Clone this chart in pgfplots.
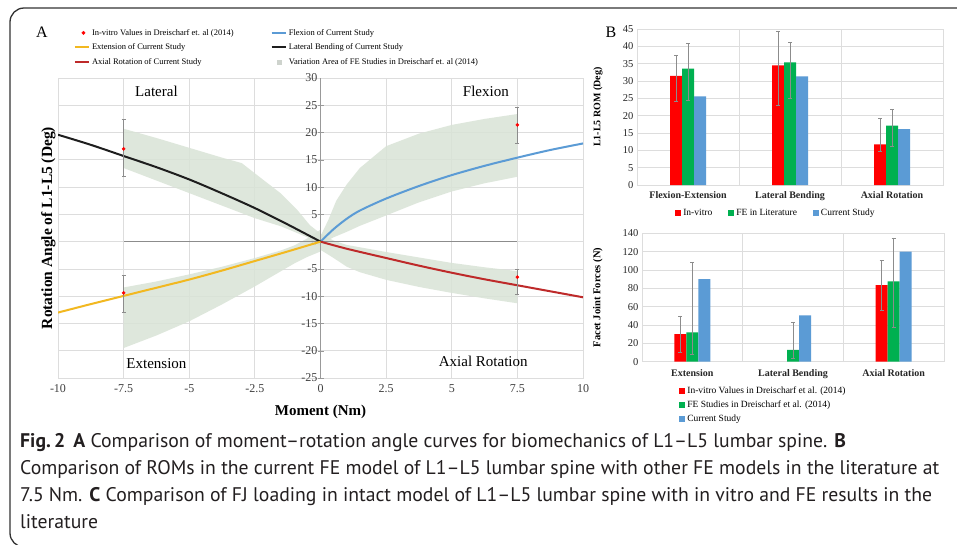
\documentclass[border=0pt]{standalone}
\usepackage{fontspec}
\setmainfont{Liberation Serif}
\newfontfamily\capfont{PT Sans}
\usepackage{pgfplots}
\pgfplotsset{compat=1.18}

\definecolor{flexblue}{HTML}{5B9BD5}
\definecolor{extgold}{HTML}{F2B820}
\definecolor{latblack}{HTML}{1E1E1E}
\definecolor{axred}{HTML}{BE2A2A}
\definecolor{shade}{HTML}{D9E3D6}
\definecolor{gridgray}{HTML}{DDDDDD}
\definecolor{barred}{HTML}{FF0000}
\definecolor{bargreen}{HTML}{00B050}
\definecolor{barblue}{HTML}{5B9BD5}
\definecolor{errgray}{HTML}{8C8C8C}
\definecolor{captext}{HTML}{231F20}

\pgfplotsset{
  /pgf/number format/assume math mode=true,
  sq legend/.style={legend image code/.code={\fill[#1] (0pt,-3pt) rectangle (6pt,3pt);}},
  ln legend/.style={legend image code/.code={\draw[#1, line width=2.2pt] (0pt,0pt) -- (14pt,0pt);}},
  errs/.style={
    /pgfplots/error bars/y dir=both,
    /pgfplots/error bars/y explicit,
    /pgfplots/error bars/error bar style={draw=errgray, line width=0.7pt},
    /pgfplots/error bars/error mark options={rotate=90, draw=errgray, mark size=2pt, line width=0.7pt}},
}

\begin{document}
\begin{tikzpicture}
\useasboundingbox (0,0) rectangle (957pt,-544pt);
\fill[white] (0,0) rectangle (957pt,-544pt);

% ---------------- panel A ----------------
\begin{axis}[
  at={(58pt,-378pt)}, anchor=south west,
  scale only axis, width=525pt, height=300pt,
  xmin=-10, xmax=10, ymin=-25, ymax=30,
  xtick={-10,-7.5,-5,-2.5,0,2.5,5,7.5,10},
  xticklabels={-10,-7.5,-5,-2.5,0,2.5,5,7.5,10},
  ytick={-25,-20,-15,-10,-5,0,5,10,15,20,25,30},
  yticklabels={-25,-20,-15,-10,-5,0,5,10,15,20,25,30},
  grid=major, grid style={draw=gridgray, line width=0.8pt},
  axis line style={draw=gridgray, line width=0.8pt},
  major tick length=0pt,
  tick label style={font=\fontsize{12}{12}\selectfont, text=black!75},
  xticklabel style={yshift=-3pt},
  yticklabel style={xshift=263pt},
  xlabel={Moment (Nm)},
  xlabel style={font=\fontsize{15}{15}\selectfont\bfseries, at={(axis description cs:0.5,-0.112)}, anchor=center},
  ylabel={Rotation Angle of L1-L5 (Deg)},
  ylabel style={font=\fontsize{15.5}{15.5}\selectfont\bfseries, at={(axis description cs:0.002,0.5)}, anchor=south},
  legend style={at={(axis description cs:0.024,1.177)}, anchor=north west, draw=none, fill=none,
    legend columns=2, font=\fontsize{8.5}{8.5}\selectfont, cells={anchor=west}, row sep=3pt,
    /tikz/every even column/.append style={column sep=35pt}},
]
% variation areas of FE studies
\addplot[fill=shade, draw=none, fill opacity=0.85, forget plot] coordinates {
  (-7.5,20.7) (-6.25,19.0) (-5,17.2) (-3.75,15.4) (-3,14.4) (-2.2,11.4) (-1.5,8.8) (-0.9,5.9) (-0.4,3.0) (0,1.5)
  (0,-0.8) (-0.5,0.8) (-1,1.8) (-1.5,2.8) (-2.5,4.3) (-3.75,6.6) (-5,8.9) (-6.25,11.2) (-7.5,13.5)} -- cycle;
\addplot[fill=shade, draw=none, fill opacity=0.85, forget plot] coordinates {
  (-7.5,-8.4) (-6.25,-7.3) (-5,-6.0) (-3.75,-4.6) (-2.5,-3.0) (-1.5,-1.6) (-1,-0.7) (-0.5,0.6) (0,2.2)
  (0,-1.8) (-0.5,-2.8) (-1,-4.0) (-1.5,-5.4) (-2.5,-8.2) (-3.75,-11.5) (-5,-14.6) (-6.25,-17.2) (-7.5,-19.5)} -- cycle;
\addplot[fill=shade, draw=none, fill opacity=0.85, forget plot] coordinates {
  (0,1) (0.3,4) (0.6,7.5) (1,10.5) (1.5,13.5) (2.5,17.5) (3.75,19.8) (5,21.4) (6.25,22.5) (7.5,23.4)
  (7.5,11.9) (6.25,10.7) (5,9.2) (3.75,7.2) (2.5,4.8) (1.5,2.9) (1,1.8) (0.5,0.8) (0,-0.5)} -- cycle;
\addplot[fill=shade, draw=none, fill opacity=0.85, forget plot] coordinates {
  (0,1.5) (0.5,0.2) (1,-0.6) (2.5,-1.9) (3.75,-2.9) (5,-3.9) (6.25,-4.7) (7.5,-5.4)
  (7.5,-11.3) (6.25,-10.4) (5,-9.4) (3.75,-8.3) (2.5,-7.0) (1.5,-5.6) (1,-4.6) (0.5,-3.0) (0,-1.5)} -- cycle;
% axes through the origin
\addplot[draw=black!45, line width=1pt, forget plot] coordinates {(-7.5,0) (7.5,0)};
\addplot[draw=black!40, line width=1.1pt, forget plot] coordinates {(0,-25) (0,30)};
\addplot[only marks, mark=-, mark size=3pt, draw=black!40, forget plot] coordinates {
  (0,-25) (0,-20) (0,-15) (0,-10) (0,-5) (0,5) (0,10) (0,15) (0,20) (0,25)};
% current study
\addplot[draw=flexblue, line width=2pt, smooth, forget plot] coordinates {
  (0,0) (0.5,2.3) (1,4.2) (1.5,5.7) (2.5,7.9) (3.75,10.2) (5,12.2) (6.25,13.9) (7.5,15.4) (8.75,16.8) (10,18.0)};
\addplot[draw=axred, line width=2pt, smooth, forget plot] coordinates {
  (0,0) (1,-1.3) (2.5,-3.0) (3.75,-4.4) (5,-5.7) (6.25,-6.9) (7.5,-8.0) (8.75,-9.1) (10,-10.2)};
\addplot[draw=latblack, line width=2pt, smooth, forget plot] coordinates {
  (-10,19.6) (-8.75,17.75) (-7.5,15.7) (-6.25,13.65) (-5,11.4) (-3.75,8.85) (-2.5,6.15) (-1.25,3.15) (0,0)};
\addplot[draw=extgold, line width=2pt, smooth, forget plot] coordinates {
  (-10,-13.0) (-8.75,-11.45) (-7.5,-9.95) (-6.25,-8.45) (-5,-6.95) (-3.75,-5.3) (-2.5,-3.55) (-1.25,-1.8) (0,0)};
% in-vitro values
\addplot[only marks, mark=*, mark size=1.6pt, color=barred, forget plot, errs]
  table[x=x, y=y, y error plus=ep, y error minus=em] {
x y ep em
-7.5 17.0 5.4 5.1
-7.5 -9.4 3.2 3.6
7.5 21.4 3.3 3.4
7.5 -6.5 1.4 3.2
};
% legend
\addlegendimage{only marks, mark=*, mark size=1.7pt, color=barred}
\addlegendentry{In-vitro Values in Dreischarf et. al (2014)}
\addlegendimage{ln legend=flexblue}
\addlegendentry{Flexion of Current Study}
\addlegendimage{ln legend=extgold}
\addlegendentry{Extension of Current Study}
\addlegendimage{ln legend=latblack}
\addlegendentry{Lateral Bending of Current Study}
\addlegendimage{ln legend=axred}
\addlegendentry{Axial Rotation of Current Study}
\addlegendimage{legend image code/.code={\fill[shade!80!black!60] (5pt,-2pt) rectangle (9pt,2pt);}}
\addlegendentry{Variation Area of FE Studies in Dreischarf et. al (2014)}
% region names
\node[font=\fontsize{15}{15}\selectfont] at (axis cs:-6.25,27.5) {Lateral};
\node[font=\fontsize{15}{15}\selectfont] at (axis cs:-6.25,-22.3) {Extension};
\node[font=\fontsize{15}{15}\selectfont] at (axis cs:6.3,27.5) {Flexion};
\node[font=\fontsize{15}{15}\selectfont] at (axis cs:6.2,-22.0) {Axial Rotation};
\end{axis}
\node[font=\fontsize{16}{16}\selectfont] at (42pt,-32pt) {A};

% ---------------- panel B ----------------
\begin{axis}[
  at={(637pt,-185pt)}, anchor=south west,
  scale only axis, width=306pt, height=156pt,
  ybar=0pt, bar width=12pt,
  xmin=-0.5, xmax=2.5, ymin=0, ymax=45,
  xtick={0,1,2}, xticklabels={Flexion-Extension,Lateral Bending,Axial Rotation},
  minor xtick={0.5,1.5}, xminorgrids=true, ymajorgrids=true, ytick={0,5,...,45},
  grid style={draw=gridgray, line width=0.7pt}, minor grid style={draw=gridgray, line width=0.7pt},
  axis line style={draw=gridgray, line width=0.7pt},
  major tick length=0pt, minor tick length=0pt,
  tick label style={font=\fontsize{10.5}{10.5}\selectfont, text=black!85},
  xticklabel style={font=\fontsize{10}{10}\selectfont\bfseries, yshift=-3pt},
  ylabel={L1-L5 ROM (Deg)},
  ylabel style={font=\fontsize{10}{10}\selectfont\bfseries, at={(axis description cs:-0.101,0.5)}, anchor=south},
  legend style={at={(axis description cs:0.454,-0.18)}, anchor=center, draw=none, fill=none,
    legend columns=3, font=\fontsize{9.5}{9.5}\selectfont,
    /tikz/every even column/.append style={column sep=14pt}},
]
\addplot[fill=barred, draw=none, sq legend=barred, errs]
  table[x=x, y=y, y error plus=ep, y error minus=em] {
x y ep em
0 31.5 5.9 7.5
1 34.5 9.8 11.5
2 11.7 7.5 2.0
};
\addlegendentry{In-vitro}
\addplot[fill=bargreen, draw=none, sq legend=bargreen, errs]
  table[x=x, y=y, y error plus=ep, y error minus=em] {
x y ep em
0 33.6 7.2 9.3
1 35.4 5.7 10.4
2 17.1 4.8 5.9
};
\addlegendentry{FE in Literature}
\addplot[fill=barblue, draw=none, sq legend=barblue] coordinates {(0,25.6) (1,31.3) (2,16.1)};
\addlegendentry{Current Study}
\end{axis}
\node[font=\fontsize{16}{16}\selectfont] at (611pt,-32pt) {B};

% ---------------- panel C ----------------
\begin{axis}[
  at={(642pt,-361.7pt)}, anchor=south west,
  scale only axis, width=302pt, height=128.4pt,
  ybar=0pt, bar width=12pt,
  xmin=-0.5, xmax=2.5, ymin=0, ymax=140,
  xtick={0,1,2}, xticklabels={Extension,Lateral Bending,Axial Rotation},
  minor xtick={0.5,1.5}, xminorgrids=true, ymajorgrids=true, ytick={0,20,...,140},
  grid style={draw=gridgray, line width=0.7pt}, minor grid style={draw=gridgray, line width=0.7pt},
  axis line style={draw=gridgray, line width=0.7pt},
  major tick length=0pt, minor tick length=0pt,
  tick label style={font=\fontsize{10.5}{10.5}\selectfont, text=black!85},
  xticklabel style={font=\fontsize{10}{10}\selectfont\bfseries, yshift=-4pt},
  ylabel={Facet Joint Forces (N)},
  ylabel style={font=\fontsize{10.5}{10.5}\selectfont\bfseries, at={(axis description cs:-0.119,0.5)}, anchor=south},
  legend style={at={(axis description cs:0.113,-0.166)}, anchor=north west, draw=none, fill=none,
    legend columns=1, font=\fontsize{9.5}{9.5}\selectfont, cells={anchor=west}, row sep=1.5pt},
]
\addplot[fill=barred, draw=none, sq legend=barred, errs]
  table[x=x, y=y, y error plus=ep, y error minus=em] {
x y ep em
0 30.2 19.8 20.4
2 83.5 27.0 28.0
};
\addlegendentry{In-vitro Values in Dreischarf et al. (2014)}
\addplot[fill=bargreen, draw=none, sq legend=bargreen, errs]
  table[x=x, y=y, y error plus=ep, y error minus=em] {
x y ep em
0 32.0 76.0 24.0
1 12.8 30.0 9.0
2 87.5 47.5 49.5
};
\addlegendentry{FE Studies in Dreischarf et al. (2014)}
\addplot[fill=barblue, draw=none, sq legend=barblue] coordinates {(0,90) (1,50.5) (2,120)};
\addlegendentry{Current Study}
\end{axis}

% ---------------- caption and frame ----------------
\begin{scope}[every node/.style={anchor=base west, inner sep=0pt, text=captext, font=\capfont\fontsize{19.7}{19.7}\selectfont}]
\node at (20pt,-447pt) {\textbf{Fig.\,2}\hspace{8pt}\textbf{A} Comparison of moment–rotation angle curves for biomechanics of L1–L5 lumbar spine. \textbf{B}};
\node at (20pt,-474pt) {Comparison of ROMs in the current FE model of L1–L5 lumbar spine with other FE models in the literature at};
\node at (20pt,-501pt) {7.5 Nm. \textbf{C} Comparison of FJ loading in intact model of L1–L5 lumbar spine with in vitro and FE results in the};
\node at (20pt,-528pt) {literature};
\end{scope}
\draw[line width=1.3pt, draw=black!80, rounded corners=14pt] (990pt,-8pt) -- (10pt,-8pt) -- (10pt,-547pt) -- (990pt,-547pt);
\end{tikzpicture}
\end{document}
